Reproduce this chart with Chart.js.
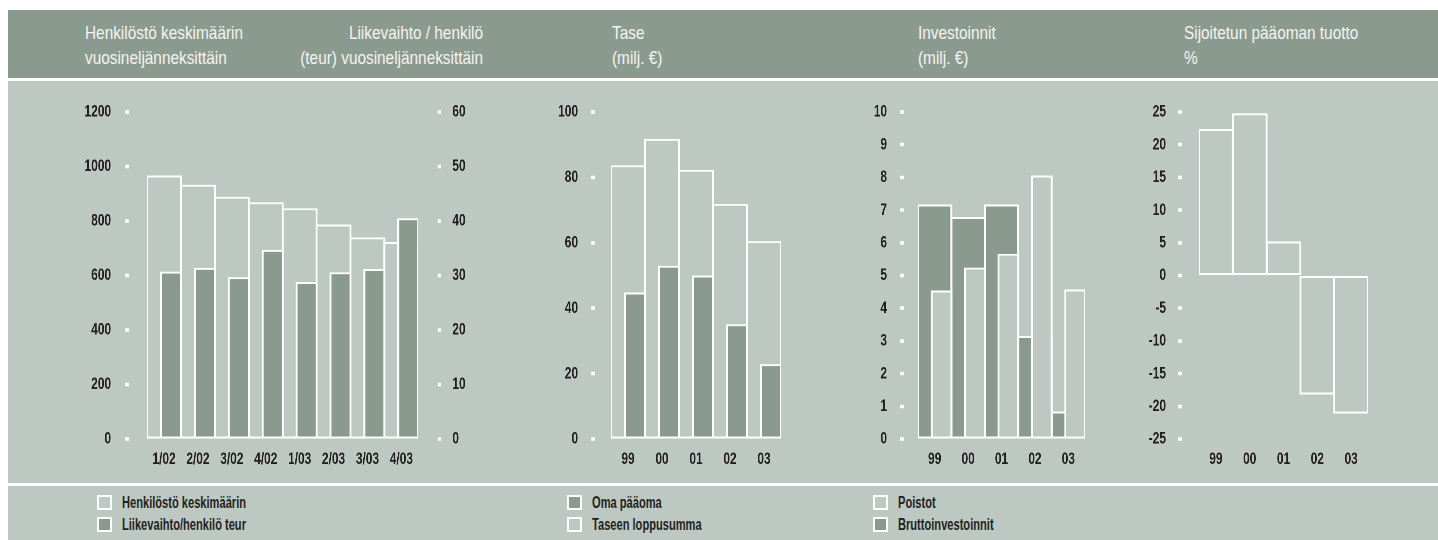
<!DOCTYPE html>
<html><head><meta charset="utf-8">
<script src="https://cdn.jsdelivr.net/npm/chart.js@4"></script>
<style>
html,body{margin:0;padding:0;background:#fff;}
body{width:1438px;height:540px;position:relative;overflow:hidden;font-family:"Liberation Sans",Arial,sans-serif;}
.band{position:absolute;left:8px;right:0;}
#head{top:10px;height:68px;background:#8b9a8f;}
#plot{top:81px;height:402px;background:#bec8c2;}
#leg{top:486px;height:54px;background:#bec8c2;}
.t{position:absolute;color:#f3f3ef;font-size:19px;line-height:25px;white-space:nowrap;top:20px;transform-origin:left center;}
.t.r{text-align:right;transform-origin:right center;}
.cw{position:absolute;top:81px;height:402px;}
.cv{position:absolute;left:0;top:0;height:402px;transform-origin:left top;}
.lgi{position:absolute;height:15px;}
.sw{position:absolute;left:0;top:0;width:11px;height:11px;border:2px solid #fff;}
.lt{position:absolute;left:25px;top:-3px;font-size:16px;font-weight:bold;line-height:21px;color:#231f20;white-space:nowrap;transform-origin:left center;}
</style></head>
<body>
<div class="band" id="head"></div>
<div class="band" id="plot"></div>
<div class="band" id="leg"></div>

<div class="t" id="t1" style="left:85px">Henkilöstö keskimäärin<br>vuosineljänneksittäin</div>
<div class="t r" id="t2" style="right:955px">Liikevaihto / henkilö<br>(teur) vuosineljänneksittäin</div>
<div class="t" id="t3" style="left:612px">Tase<br>(milj. €)</div>
<div class="t" id="t4" style="left:918px">Investoinnit<br>(milj. €)</div>
<div class="t" id="t5" style="left:1184px">Sijoitetun pääoman tuotto<br>%</div>

<div id="charts"></div>
<div id="legends"></div>

<script>
// ---------- data ----------
const quarters = ['1/02','2/02','3/02','4/02','1/03','2/03','3/03','4/03'];
const henkilosto = [967, 933, 889, 869, 847, 787, 740, 723];
const liikevaihtoPerHenkilo = [30.7, 31.4, 29.7, 34.7, 28.8, 30.6, 31.2, 40.5];

const years = ['99','00','01','02','03'];
const taseenLoppusumma = [83.7, 91.8, 82.3, 71.9, 60.5];
const omaPaaoma = [44.8, 53.0, 50.0, 35.1, 22.9];

const bruttoinvestoinnit = [7.17, 6.79, 7.17, 3.15, 0.84];
const poistot = [4.54, 5.24, 5.66, 8.06, 4.57];

const sijoitetunPaaomanTuotto = [22.4, 24.8, 5.2, -18.2, -21.1];

const leftAxisHenkilosto = {min: 0, max: 1200, step: 200};
const rightAxisLiikevaihto = {min: 0, max: 60, step: 10};
const axisTase = {min: 0, max: 100, step: 20};
const axisInvestoinnit = {min: 0, max: 10, step: 1};
const axisTuotto = {min: -25, max: 25, step: 5};

// ---------- styles ----------
const DARK = '#8b9a8f';
const LIGHT = '#bec8c2';
const WHITE = '#ffffff';
const TEXT = '#231f20';
const FAM = '"Liberation Sans", Arial, sans-serif';
const SX = 0.7;          // horizontal condensing of the chart canvases
const DOT = 5;           // dot length (canvas px) along the tick
const TICK_FONT = {size: 17, weight: 'bold'};

function measure(text, size, weight) {
  const c = document.createElement('canvas').getContext('2d');
  c.font = (weight || 'normal') + ' ' + size + 'px ' + FAM;
  return c.measureText(text).width;
}
const headScale = 158 / measure('Henkilöstö keskimäärin', 19);
document.querySelectorAll('.t').forEach(el => el.style.transform = 'scaleX(' + headScale + ')');

// ---------- legends ----------
const legendGroups = [
  {x: 97, items: [['Henkilöstö keskimäärin', LIGHT], ['Liikevaihto/henkilö teur', DARK]]},
  {x: 567, items: [['Oma pääoma', DARK], ['Taseen loppusumma', LIGHT]]},
  {x: 873, items: [['Poistot', LIGHT], ['Bruttoinvestoinnit', DARK]]}
];
const legScale = 124 / measure('Henkilöstö keskimäärin', 16, 'bold');
const legRoot = document.getElementById('legends');
legendGroups.forEach(g => {
  g.items.forEach((it, i) => {
    const d = document.createElement('div');
    d.className = 'lgi';
    d.style.left = g.x + 'px';
    d.style.top = (495 + i * 22) + 'px';
    d.innerHTML = '<div class="sw" style="background:' + it[1] + '"></div><div class="lt" style="transform:scaleX(' + legScale + ')">' + it[0] + '</div>';
    legRoot.appendChild(d);
  });
});

// ---------- chart helpers ----------
Chart.defaults.font.family = FAM;
Chart.defaults.font.size = 17;
Chart.defaults.color = TEXT;

const TOP_PAD = 31;     // chart area top inside band (y = 112)
const X_AXIS_H = 44;    // space below the baseline (y = 439)

function leftAxis(rng, box, dotX, labelR) {
  const width = (box.areaL - box.left) / SX;
  const tl = (box.areaL - dotX) / SX + DOT / 2;
  const pad = (dotX - labelR) / SX - DOT / 2;
  return axisCfg('left', rng, width, tl, pad, [DOT, tl - DOT], 0);
}
function rightAxis(rng, box, dotX, labelL) {
  const width = (box.left + box.width - box.areaR) / SX;
  const tl = (dotX - box.areaR) / SX + DOT / 2;
  const pad = (labelL - dotX) / SX - DOT / 2;
  return axisCfg('right', rng, width, tl, pad, [DOT, tl - DOT], DOT);
}
function axisCfg(position, rng, width, tl, pad, dash, dashOffset) {
  return {
    type: 'linear', position, min: rng.min, max: rng.max,
    ticks: {stepSize: rng.step, padding: pad, color: TEXT, font: TICK_FONT,
      callback: v => String(v)},
    grid: {display: true, drawOnChartArea: false, drawTicks: true, color: 'rgba(0,0,0,0)',
      tickLength: tl, tickWidth: 3.5, tickColor: WHITE,
      tickBorderDash: dash, tickBorderDashOffset: dashOffset},
    border: {display: false},
    afterFit(s) { s.width = width; s.paddingTop = 0; s.paddingBottom = 0; }
  };
}
function xAxis(labels) {
  return {
    type: 'category', labels, offset: true,
    ticks: {padding: 10, color: TEXT, autoSkip: false, maxRotation: 0, font: TICK_FONT},
    grid: {display: false, drawTicks: false},
    border: {display: false},
    afterFit(s) { s.height = X_AXIS_H; s.paddingLeft = 0; s.paddingRight = 0; }
  };
}
const BW = {top: 2, bottom: 2, left: 2 / SX, right: 2 / SX};
const FULL = {grouped: false, barPercentage: 1.058, categoryPercentage: 1};
const PART = {grouped: true, barPercentage: 1.585, categoryPercentage: 0.82};
function spacer(n, yID) {
  return Object.assign({label: '', data: new Array(n).fill(null), yAxisID: yID, order: 0}, PART);
}
function bar(label, data, fill, yID, order, kind) {
  return Object.assign({label, data, yAxisID: yID, order,
    backgroundColor: fill, borderColor: WHITE, borderWidth: BW, borderSkipped: false}, kind);
}
function make(box, labels, datasets, scales) {
  const wrap = document.createElement('div');
  wrap.className = 'cw';
  wrap.style.left = box.left + 'px';
  wrap.style.width = box.width + 'px';
  const inner = document.createElement('div');
  inner.className = 'cv';
  inner.style.width = (box.width / SX) + 'px';
  inner.style.transform = 'scaleX(' + SX + ')';
  const canvas = document.createElement('canvas');
  inner.appendChild(canvas);
  wrap.appendChild(inner);
  document.getElementById('charts').appendChild(wrap);
  const rightPad = scales.y1 ? 0 : (box.left + box.width - box.areaR) / SX;
  return new Chart(canvas, {
    type: 'bar',
    data: {labels, datasets},
    options: {
      responsive: true, maintainAspectRatio: false, animation: false, devicePixelRatio: 2,
      layout: {padding: {top: TOP_PAD, right: rightPad, left: 0, bottom: 0}},
      plugins: {legend: {display: false}, tooltip: {enabled: false}, title: {display: false}},
      scales
    }
  });
}

// Chart 1: Henkilöstö & Liikevaihto / henkilö
const box1 = {left: 60, width: 440, areaL: 147, areaR: 418};
make(box1, quarters, [
  spacer(quarters.length, 'y'),
  bar('Liikevaihto/henkilö teur', liikevaihtoPerHenkilo, DARK, 'y1', 1, PART),
  bar('Henkilöstö keskimäärin', henkilosto, LIGHT, 'y', 2, FULL)
], {
  x: xAxis(quarters),
  y: leftAxis(leftAxisHenkilosto, box1, 127, 111),
  y1: rightAxis(rightAxisLiikevaihto, box1, 439, 452)
});

// Chart 2: Tase
const box2 = {left: 540, width: 280, areaL: 611, areaR: 781};
make(box2, years, [
  spacer(years.length, 'y'),
  bar('Oma pääoma', omaPaaoma, DARK, 'y', 1, PART),
  bar('Taseen loppusumma', taseenLoppusumma, LIGHT, 'y', 2, FULL)
], {
  x: xAxis(years),
  y: leftAxis(axisTase, box2, 593, 578)
});

// Chart 3: Investoinnit
const box3 = {left: 850, width: 280, areaL: 918, areaR: 1085};
make(box3, years, [
  spacer(years.length, 'y'),
  bar('Poistot', poistot, LIGHT, 'y', 1, PART),
  bar('Bruttoinvestoinnit', bruttoinvestoinnit, DARK, 'y', 2, FULL)
], {
  x: xAxis(years),
  y: leftAxis(axisInvestoinnit, box3, 902, 887)
});

// Chart 4: Sijoitetun pääoman tuotto
const box4 = {left: 1120, width: 318, areaL: 1199, areaR: 1368};
make(box4, years, [
  bar('Sijoitetun pääoman tuotto %', sijoitetunPaaomanTuotto, 'rgba(0,0,0,0)', 'y', 1, FULL)
], {
  x: xAxis(years),
  y: leftAxis(axisTuotto, box4, 1180, 1166)
});
</script>
</body></html>
